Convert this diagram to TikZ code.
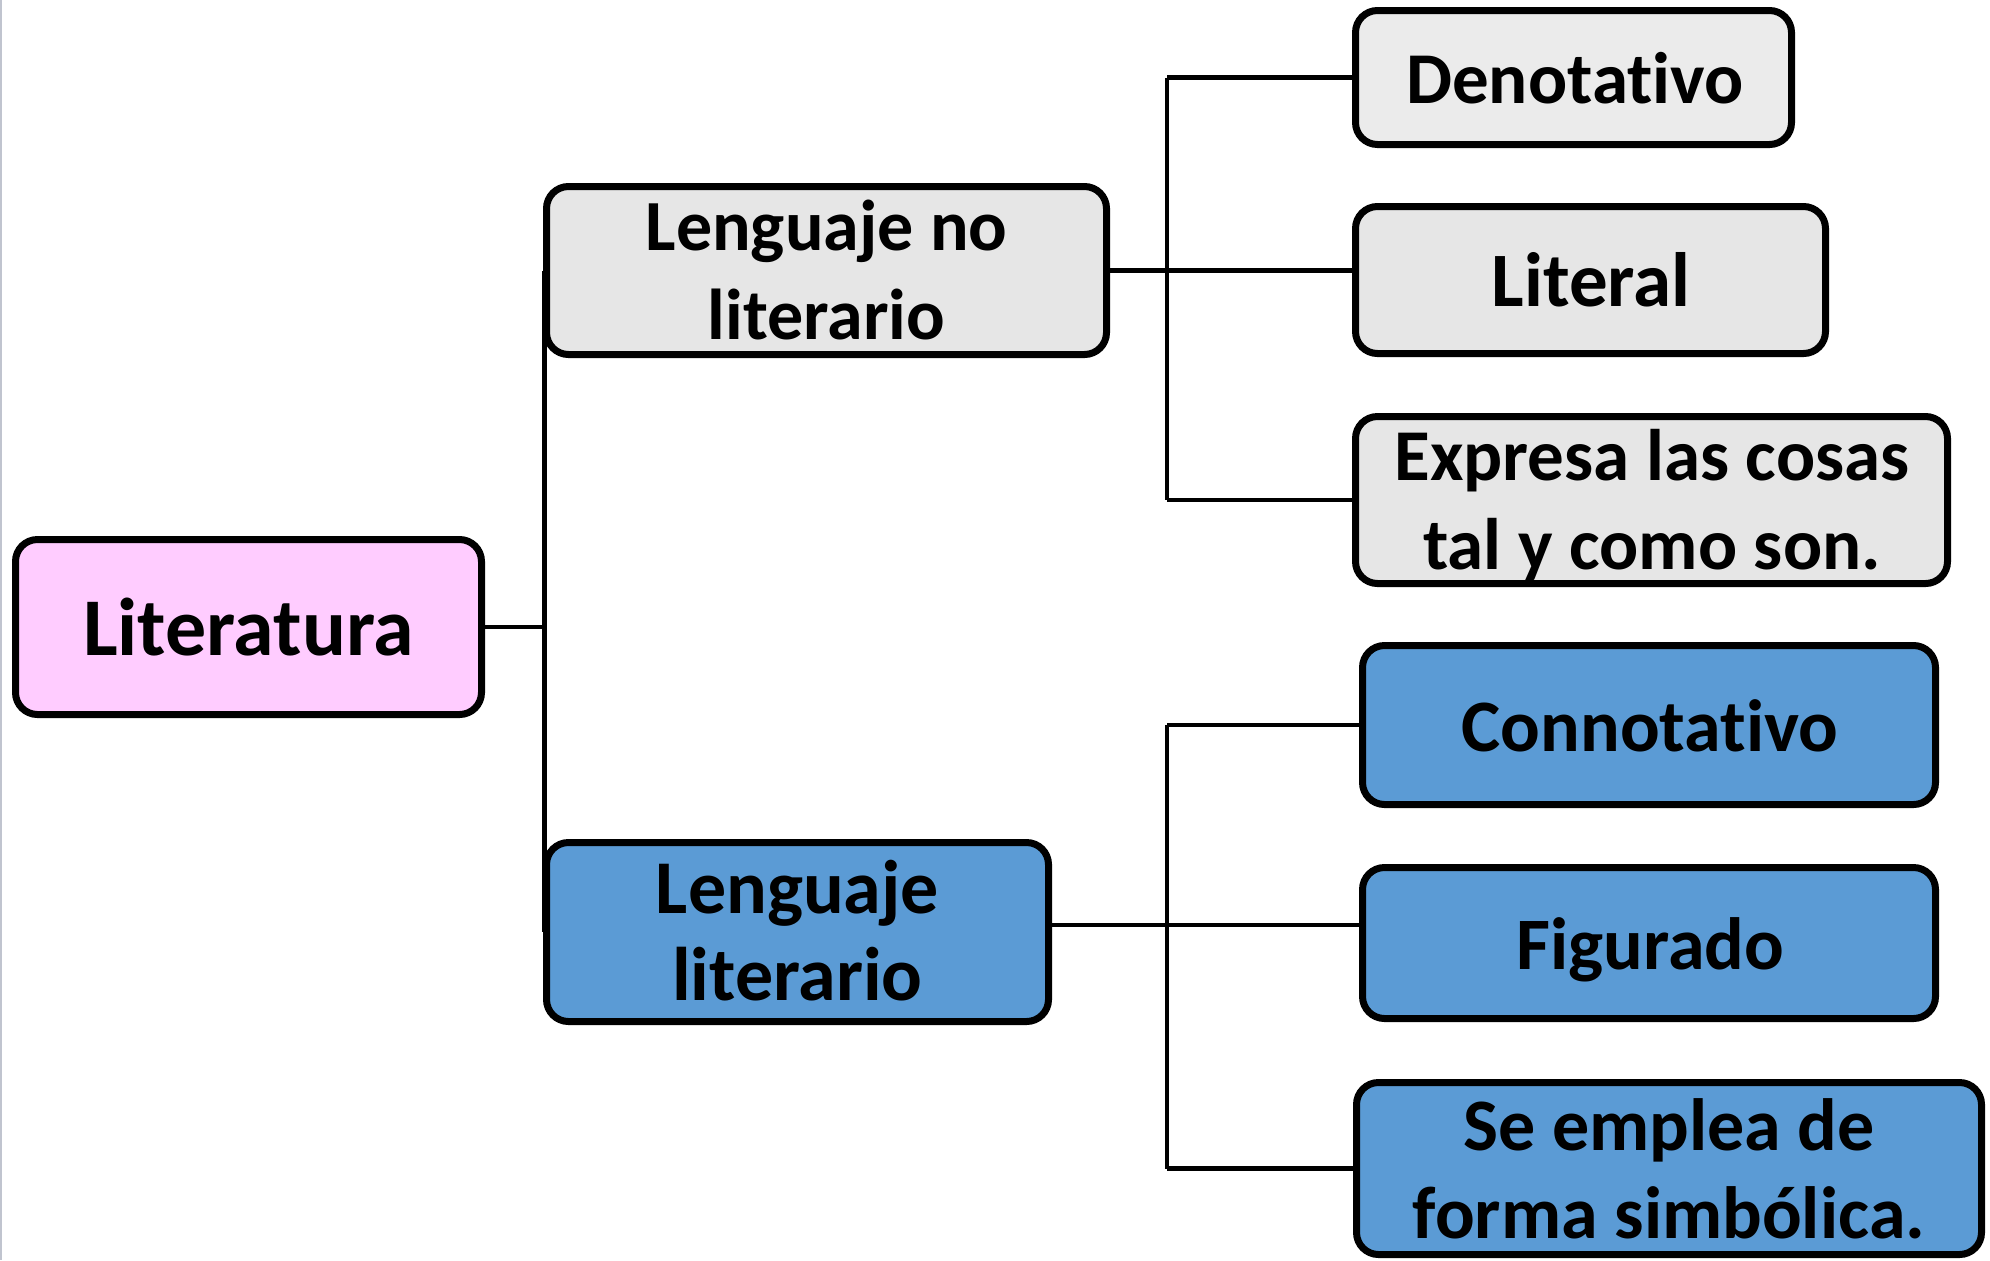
\documentclass[tikz,border=0pt]{standalone}
\usepackage{fontspec}
\setmainfont{Carlito}[RawFeature={-liga;-clig}]
\usetikzlibrary{backgrounds}
\definecolor{pinkfill}{HTML}{FFCCFF}
\definecolor{greyfill}{HTML}{E6E6E6}
\definecolor{greyfillb}{HTML}{EBEBEB}
\definecolor{bluefill}{HTML}{5B9BD5}
\definecolor{edgegrey}{HTML}{C0C4CF}
\newcommand{\fs}[1]{\fontsize{#1}{45pt}\selectfont}
\tikzset{
  box/.style={draw=black, line width=3.5pt, rounded corners=11pt, inner sep=0pt},
  conn/.style={draw=black, line width=2.4pt},
  txt/.style={anchor=base, inner sep=0pt, font=\bfseries}
}
\begin{document}
\begin{tikzpicture}[x=0.5pt, y=-0.5pt]
\useasboundingbox (0,0) rectangle (1990,1260);

% boxes
\node[box, fill=pinkfill, minimum width=233pt, minimum height=87.5pt] (lit) at (248.5,627) {};
\node[box, fill=greyfill, minimum width=280pt, minimum height=84pt] (lnl) at (826.5,270.5) {};
\node[box, fill=bluefill, minimum width=251pt, minimum height=89.5pt] (ll) at (797.5,932) {};
\node[box, fill=greyfillb, minimum width=218pt, minimum height=67pt] (den) at (1573.5,77.5) {};
\node[box, fill=greyfill, minimum width=235pt, minimum height=73.5pt] (lite) at (1590.5,280) {};
\node[box, fill=greyfill, minimum width=296pt, minimum height=83.5pt] (exp) at (1651.5,500) {};
\node[box, fill=bluefill, minimum width=286.5pt, minimum height=79.5pt] (con) at (1649,725) {};
\node[box, fill=bluefill, minimum width=286.5pt, minimum height=75.5pt] (fig) at (1649,943) {};
\node[box, fill=bluefill, minimum width=312.5pt, minimum height=86pt] (se) at (1669,1168.5) {};

% junction coordinates
\coordinate (jt) at ([xshift=0.6pt]lnl.west);
\coordinate (jb) at ([xshift=0.6pt]ll.west);
\coordinate (ju) at (1167,270);
\coordinate (jl) at (1167,925);

% connectors, behind the boxes
\begin{scope}[on background layer]
\fill[white] (0,0) rectangle (1990,1260);
\draw[edgegrey, line width=1pt] (1,0) -- (1,1260);
\draw[conn] (lit.east) -- (lit.east -| jt);
\draw[conn] (jt) -- (jb);
\draw[conn] (lnl.east) -- (lnl.east -| lite.west);
\draw[conn] (ju |- den.west) -- (den.west);
\draw[conn] (ju |- exp.west) -- (exp.west);
\draw[conn] (ju |- den.west) -- (ju |- exp.west);
\draw[conn] ([yshift=3.5pt]ll.east) -- (jl) -- (jl -| fig.west);
\draw[conn] (jl |- con.west) -- (con.west);
\draw[conn] (jl |- se.west) -- (se.west);
\draw[conn] (jl |- con.west) -- (jl |- se.west);
\end{scope}

% texts
\node[txt, font=\bfseries\fs{41pt}] (t-lit) at (248.5,655) {Literatura};
\node[txt, font=\bfseries\fs{36pt}] (t-lnl1) at (826.5,250.5) {Lenguaje no};
\node[txt, font=\bfseries\fs{36pt}] (t-lnl2) at (826.5,339) {literario};
\node[txt, font=\bfseries\fs{38pt}] (t-ll1) at (797.5,913) {Lenguaje};
\node[txt, font=\bfseries\fs{38pt}] (t-ll2) at (797.5,1000) {literario};
\node[txt, font=\bfseries\fs{36.5pt}] (t-den) at (1575,103.5) {Denotativo};
\node[txt, font=\bfseries\fs{38.5pt}] (t-lite) at (1591,306) {Literal};
\node[txt, font=\bfseries\fs{36.5pt}] (t-exp1) at (1652,480) {Expresa las cosas};
\node[txt, font=\bfseries\fs{36.5pt}] (t-exp2) at (1652,569) {tal y como son.};
\node[txt, font=\bfseries\fs{37pt}] (t-con) at (1650,751) {Connotativo};
\node[txt, font=\bfseries\fs{37pt}] (t-fig) at (1650.5,969) {Figurado};
\node[txt, font=\bfseries\fs{37pt}] (t-se1) at (1669,1150) {Se emplea de};
\node[txt, font=\bfseries\fs{37pt}] (t-se2) at (1669,1238) {forma simbólica.};
\end{tikzpicture}
\end{document}
